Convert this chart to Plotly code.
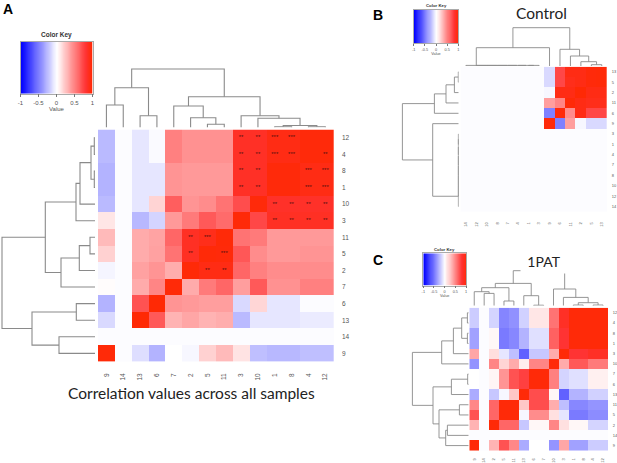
import plotly.graph_objects as go

W, H = 617, 463

# ---------- Panel A ----------
A_COLS = ["9","14","13","6","7","2","5","11","3","10","1","8","4","12"]
A_ROWS = ["12","4","8","1","10","3","11","5","2","7","6","13","14","9"]
A_Z = [
 [-.27,-.01,-.10,-.02,.50,.43,.43,.43,.85,.85,.92,.92,.96,.96],
 [-.27,-.01,-.10,-.02,.50,.43,.43,.43,.85,.85,.92,.92,.96,.96],
 [-.30,-.01,-.10,-.10,.42,.40,.40,.40,.85,.85,.96,.96,.92,.92],
 [-.30,-.01,-.10,-.10,.42,.40,.40,.40,.85,.85,.96,.96,.92,.92],
 [-.27,-.01,-.10,.17,.63,.42,.45,.55,.70,.96,.84,.84,.84,.84],
 [.10,-.01,-.28,-.17,.40,.52,.65,.58,.97,.72,.86,.86,.86,.86],
 [.27,-.01,.33,.36,.60,.86,.90,.97,.55,.52,.40,.40,.40,.40],
 [.18,-.01,.33,.37,.55,.86,.97,.96,.66,.45,.40,.40,.42,.42],
 [-.04,-.01,.37,.42,.32,.97,.92,.92,.60,.50,.45,.45,.45,.45],
 [.01,-.01,.33,.48,.97,.33,.52,.60,.38,.65,.43,.43,.50,.50],
 [-.30,-.01,.68,.98,.42,.40,.38,.38,-.15,.16,-.10,-.10,-.01,-.01],
 [-.15,-.01,.98,.65,.30,.35,.30,.32,-.27,-.10,-.10,-.10,-.08,-.08],
 [-.01,-.01,-.01,-.01,-.01,-.01,-.01,-.01,-.01,-.01,-.01,-.01,-.01,-.01],
 [.97,-.01,-.13,-.30,0,-.03,.18,.27,.11,-.25,-.28,-.28,-.25,-.25],
]
A_STAR_ROWS = ["12","12","12","12","4","4","4","4","4","8","8","8","8","1","1","1","1",
               "10","10","10","10","3","3","3","3","11","11","5","5","2","2"]
A_STAR_COLS = ["3","10","1","8","3","10","1","8","12","3","10","4","12","3","10","4","12",
               "1","8","4","12","1","8","4","12","2","5","2","11","5","11"]
A_STAR_TEXT = ["**","**","***","***","**","**","***","***","**","**","**","***","***","**","**","***","***",
               "**","**","**","**","**","**","**","**","**","***","**","***","**","**"]
A_TOP = [(0,1,22.5),(2,3,11.8),(14,15,39.8),(6,7,3.2),(5,17,9.8),(4,18,21.5),(10,11,.7),(12,13,.7),
         (20,21,2),(9,22,9.2),(8,23,11.8),(19,24,30.8),(16,25,58.5)]
A_LEFT = [(0,1,.7),(2,3,.7),(14,15,4),(16,4,15),(17,5,19),(6,7,5),(19,8,15.7),(20,9,34),(18,21,49.7),
          (10,11,18.7),(12,13,36),(23,24,63),(22,25,93)]

# ---------- Panel B ----------
B_COLS = ["14","12","10","8","7","4","1","3","9","6","11","2","5","13"]
B_ROWS = ["13","5","2","11","6","9","3","1","4","7","8","10","12","14"]
B_BLANK = [-.01]*8
B_Z = [
 B_BLANK+[-.15,.72,.92,.92,.96,.97],
 B_BLANK+[-.15,.72,.90,.92,.96,.97],
 B_BLANK+[-.03,.92,.92,.98,.92,.92],
 B_BLANK+[.38,.48,.97,.92,.90,.90],
 B_BLANK+[-.50,.96,.45,.92,.72,.72],
 B_BLANK+[.96,-.50,.38,-.03,-.15,-.15],
] + [[-.01]*14 for _ in range(8)]
B_TOP = [(6,7,.6),(5,14,.6),(4,15,.6),(3,16,.6),(2,17,.6),(1,18,.6),(0,19,.6),(20,8,18.3),
         (12,13,1.3),(11,22,4.3),(10,23,10),(9,24,16.7),(21,25,38.3)]
B_LEFT = [(0,1,.4),(14,2,4.3),(15,3,12.7),(16,4,24.3),(6,7,.3),(18,8,.3),(19,9,.3),(20,10,.3),
          (21,11,.3),(22,12,.3),(23,13,.3),(5,24,26),(17,25,56.3)]

# ---------- Panel C ----------
C_COLS = ["9","14","2","5","11","13","6","7","10","3","1","8","4","12"]
C_ROWS = ["12","4","8","1","3","10","7","6","13","11","5","2","14","9"]
C_Z = [
 [-.20,-.01,-.17,-.48,-.43,-.18,.10,.10,.55,.85,.97,.97,.97,.97],
 [-.20,-.01,-.17,-.48,-.43,-.18,.10,.10,.55,.85,.97,.97,.97,.97],
 [-.37,-.01,.03,-.52,-.47,-.30,-.12,-.12,.62,.80,.97,.97,.97,.97],
 [-.37,-.01,.03,-.52,-.47,-.30,-.12,-.12,.62,.80,.97,.97,.97,.97],
 [.35,-.01,.13,-.10,-.25,-.62,-.22,-.22,.33,.97,.80,.80,.85,.85],
 [-.42,-.01,.48,.17,.33,.07,.48,.48,.97,.33,.65,.65,.52,.52],
 [0,-.01,.04,.42,.68,.75,.97,.97,.50,-.17,-.12,-.12,.06,.06],
 [0,-.01,.04,.42,.68,.75,.97,.97,.50,-.17,-.12,-.12,.06,.06],
 [-.33,-.01,-.22,-.03,.22,.97,.70,.70,.03,-.62,-.30,-.30,-.18,-.18],
 [.47,-.01,.60,.97,.97,.22,.70,.70,.32,-.25,-.47,-.47,-.42,-.42],
 [.68,-.01,.60,.97,.97,-.03,.45,.45,.12,-.10,-.52,-.52,-.45,-.45],
 [.30,-.01,.97,.60,.60,-.22,.03,.03,.48,.12,.03,.03,-.17,-.17],
 [-.01,-.01,-.01,-.01,-.01,-.01,-.01,-.01,-.01,-.01,-.01,-.01,-.01,-.01],
 [.97,-.01,.30,.68,.47,-.33,0,0,-.42,.35,-.37,-.37,-.20,-.20],
]
C_TOP = [(1,2,12.3),(0,14,14),(3,4,4.7),(15,16,18),(6,7,.5),(5,18,10),(17,19,22.3),(10,11,.7),
         (12,13,.7),(21,22,3),(9,23,8.3),(8,24,16.7),(20,25,35)]
C_LEFT = [(0,1,1.3),(2,3,1.3),(14,15,7),(16,4,15.3),(17,5,27),(6,7,1),(19,8,17.3),(9,10,9.3),
          (11,12,21.3),(22,13,23),(21,23,29.7),(20,24,35.7),(18,25,56.3)]

# ---------- Colour key ----------
KEY_VALUES = [-1,-.9,-.8,-.7,-.6,-.5,-.4,-.3,-.2,-.1,0,.1,.2,.3,.4,.5,.6,.7,.8,.9,1]
KEY_TICKS = [-1,-.5,0,.5,1]
KEY_LABELS = ["-1","-0.5","0","0.5","1"]

COLORSCALE = [[0,"#0000ff"],[.5,"#ffffff"],[.9,"#ff3333"],[1,"#ff2800"]]
LINE = "#8a8a8a"
TEXT = "#555555"
SANS = "Liberation Sans"
CAL = "Lato"

fig = go.Figure()
layout = {}
axis_n = [0]

def dx(a, b): return [a/W, b/W]
def dy(top, bottom): return [1-bottom/H, 1-top/H]

def new_axes(xa, ya):
    axis_n[0] += 1
    n = axis_n[0]
    sfx = "" if n == 1 else str(n)
    layout["xaxis"+sfx] = dict(anchor="y"+sfx, automargin=False, **xa)
    layout["yaxis"+sfx] = dict(anchor="x"+sfx, automargin=False, **ya)
    return "x"+sfx, "y"+sfx

HIDE = dict(showgrid=False, zeroline=False, showticklabels=False, ticks="", showline=False)

def dendro(merges, n):
    """Segments of a dendrogram: returns (pos, height) polylines."""
    pos = {i: float(i) for i in range(n)}
    hgt = {i: 0.0 for i in range(n)}
    ps, hs = [], []
    for k, (a, b, h) in enumerate(merges):
        ps += [pos[a], pos[a], pos[b], pos[b], None]
        hs += [hgt[a], h, h, hgt[b], None]
        pos[n+k] = (pos[a]+pos[b])/2
        hgt[n+k] = h
    return ps, hs

def panel(z, cols, rows, x0, x1, y0, y1, top, top_base, left, left_base, lw, fs, col_gap, row_gap):
    n = len(cols)
    idx = list(range(n))
    xa, ya = new_axes(
        dict(domain=dx(x0, x1), range=[-.5, n-.5], tickmode="array", tickvals=idx, ticktext=cols,
             tickangle=-90, side="bottom", ticks="outside", ticklen=col_gap, tickcolor="rgba(0,0,0,0)",
             showgrid=False, zeroline=False, tickfont=dict(family=SANS, size=fs, color=TEXT)),
        dict(domain=dy(y0, y1), range=[n-.5, -.5], tickmode="array", tickvals=idx, ticktext=rows, side="right",
             ticks="outside", ticklen=row_gap, tickcolor="rgba(0,0,0,0)",
             showgrid=False, zeroline=False, tickfont=dict(family=SANS, size=fs, color=TEXT)))
    fig.add_trace(go.Heatmap(z=z, x=idx, y=idx, zmin=-1, zmax=1, colorscale=COLORSCALE,
                             showscale=False, hoverongaps=False, xaxis=xa, yaxis=ya))
    p, h = dendro(top, n)
    xt, yt = new_axes(dict(domain=dx(x0, x1), range=[-.5, n-.5], **HIDE),
                      dict(domain=dy(0, top_base), range=[0, top_base], **HIDE))
    fig.add_trace(go.Scatter(x=p, y=h, mode="lines", line=dict(color=LINE, width=lw),
                             hoverinfo="skip", xaxis=xt, yaxis=yt))
    p, h = dendro(left, n)
    xl, yl = new_axes(dict(domain=dx(0, left_base), range=[left_base, 0], **HIDE),
                      dict(domain=dy(y0, y1), range=[n-.5, -.5], **HIDE))
    fig.add_trace(go.Scatter(x=h, y=p, mode="lines", line=dict(color=LINE, width=lw),
                             hoverinfo="skip", xaxis=xl, yaxis=yl))
    return xa, ya

annots = []
def note(text, x, y, size, family, color="#111111", **kw):
    annots.append(dict(text=text, xref="paper", yref="paper", x=x/W, y=1-y/H, xanchor="center", yanchor="middle",
                       showarrow=False, font=dict(family=family, size=size, color=color), **kw))

def key(x0, x1, y0, y1, fs, title_y, tick_len):
    xk, yk = new_axes(
        dict(domain=dx(x0, x1), range=[-1, 1], tickmode="array", tickvals=KEY_TICKS, ticktext=KEY_LABELS,
             ticks="outside", ticklen=tick_len, tickwidth=.5, tickcolor="#777777", showgrid=False, zeroline=False,
             tickfont=dict(family=SANS, size=fs, color=TEXT),
             title=dict(text="Value", font=dict(family=SANS, size=fs, color=TEXT), standoff=1),
             showline=True, linecolor="#aaaaaa", linewidth=.5, mirror=True),
        dict(domain=dy(y0, y1), range=[0, 1], showgrid=False, zeroline=False, showticklabels=False, ticks="",
             showline=True, linecolor="#aaaaaa", linewidth=.5, mirror=True))
    fig.add_trace(go.Heatmap(z=[KEY_VALUES, KEY_VALUES], x=KEY_VALUES, y=[0, 1], zmin=-1, zmax=1,
                             colorscale=COLORSCALE, zsmooth="best", showscale=False, hoverinfo="skip",
                             xaxis=xk, yaxis=yk))
    note("<b>Color Key</b>", (x0+x1)/2, title_y, fs+.5, SANS, "#333333")

xa, ya = panel(A_Z, A_COLS, A_ROWS, 98, 333.7, 129.5, 361.7, A_TOP, 127.5, A_LEFT, 95, 1.1, 6.5, 8, 6)
fig.add_trace(go.Scatter(x=[A_COLS.index(c) for c in A_STAR_COLS], y=[A_ROWS.index(r) for r in A_STAR_ROWS],
                         text=A_STAR_TEXT, mode="text",
                         textposition="middle center", textfont=dict(family=SANS, size=6, color="#551010"),
                         hoverinfo="skip", xaxis=xa, yaxis=ya))
panel(B_Z, B_COLS, B_ROWS, 460.7, 607, 66.7, 211.7, B_TOP, 66, B_LEFT, 458.7, .9, 4, 8, 3)
panel(C_Z, C_COLS, C_ROWS, 469.3, 608, 307.7, 450.7, C_TOP, 305.7, C_LEFT, 468.7, .9, 4, 5, 3)

key(20.5, 92.5, 41.7, 93.7, 6, 35, 3)
key(413.7, 458.3, 10, 43.3, 3.8, 6, 2)
key(423.3, 466, 253.3, 285.7, 3.8, 250, 2)

note("<b>A</b>", 8, 9, 14, SANS, "#000000")
note("<b>B</b>", 378, 15, 14, SANS, "#000000")
note("<b>C</b>", 378, 260, 14, SANS, "#000000")
note("Control", 541, 13, 15.5, CAL, "#222222")
note("1PAT", 544, 261, 14, CAL, "#222222", bgcolor="#ffffff", width=44, height=22)
note("Correlation values across all samples", 191, 393, 15.5, CAL, "#222222")

fig.update_layout(width=W, height=H, margin=dict(l=0, r=0, t=0, b=0), autosize=False,
                  showlegend=False, paper_bgcolor="#ffffff", plot_bgcolor="rgba(0,0,0,0)",
                  annotations=annots, **layout)
fig.write_html("out.html", config=dict(displayModeBar=False), default_width="617px", default_height="463px",
               post_script="document.body.style.margin='0';")
